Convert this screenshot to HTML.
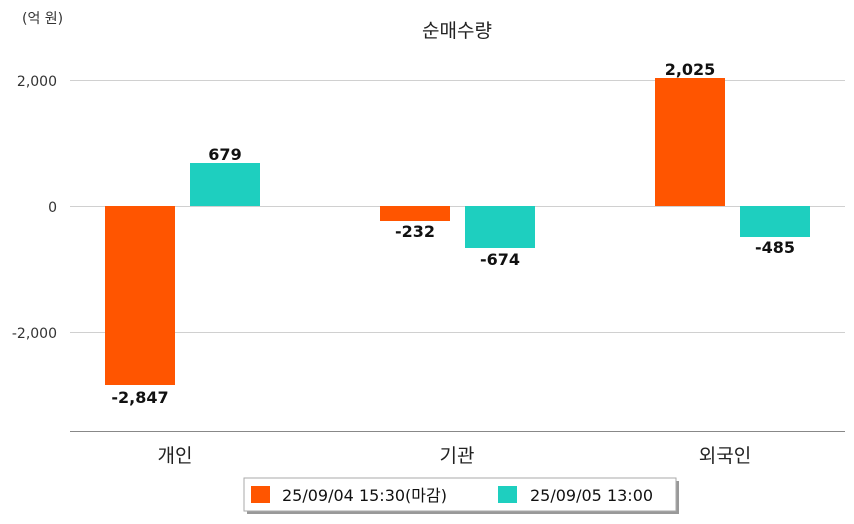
<!DOCTYPE html>
<html><head><meta charset="utf-8"><style>
body{margin:0;background:#fff;width:854px;height:520px;overflow:hidden;font-family:"DejaVu Sans","Noto Sans CJK KR",sans-serif}
</style></head><body>
<svg width="854" height="520" xmlns="http://www.w3.org/2000/svg" font-family="DejaVu Sans, Noto Sans CJK KR, sans-serif">
<text x="22" y="23" font-size="14" fill="#333">(억 원)</text>
<text x="457" y="37" font-size="19" fill="#222" text-anchor="middle">순매수량</text>
<g stroke="#d0d0d0" stroke-width="1">
<line x1="70" y1="80.5" x2="845" y2="80.5"/>
<line x1="70" y1="206.5" x2="845" y2="206.5"/>
<line x1="70" y1="332.5" x2="845" y2="332.5"/>
</g>
<line x1="70" y1="431.5" x2="845" y2="431.5" stroke="#888"/>
<g font-size="14" fill="#333" text-anchor="end">
<text x="57" y="86">2,000</text>
<text x="57" y="212">0</text>
<text x="57" y="338">-2,000</text>
</g>
<g fill="#ff5500">
<rect x="105" y="206" width="70" height="179"/>
<rect x="380" y="206" width="70" height="15"/>
<rect x="655" y="78" width="70" height="128"/>
</g>
<g fill="#1ecfbf">
<rect x="190" y="163" width="70" height="43"/>
<rect x="465" y="206" width="70" height="42"/>
<rect x="740" y="206" width="70" height="31"/>
</g>
<g font-size="16" font-weight="bold" fill="#111" text-anchor="middle">
<text x="140" y="403">-2,847</text>
<text x="225" y="160">679</text>
<text x="415" y="237">-232</text>
<text x="500" y="265">-674</text>
<text x="690" y="75">2,025</text>
<text x="775" y="253">-485</text>
</g>
<g font-size="19" fill="#222" text-anchor="middle">
<text x="175" y="462">개인</text>
<text x="457" y="462">기관</text>
<text x="725" y="462">외국인</text>
</g>
<rect x="247" y="481" width="432" height="33" fill="#999"/>
<rect x="244" y="478" width="432" height="33" fill="#fff" stroke="#aaa"/>
<rect x="251" y="486" width="19" height="17" fill="#ff5500"/>
<text x="282" y="501" font-size="16" fill="#111">25/09/04 15:30(마감)</text>
<rect x="498" y="486" width="19" height="17" fill="#1ecfbf"/>
<text x="530" y="501" font-size="16" fill="#111">25/09/05 13:00</text>
</svg>
</body></html>
